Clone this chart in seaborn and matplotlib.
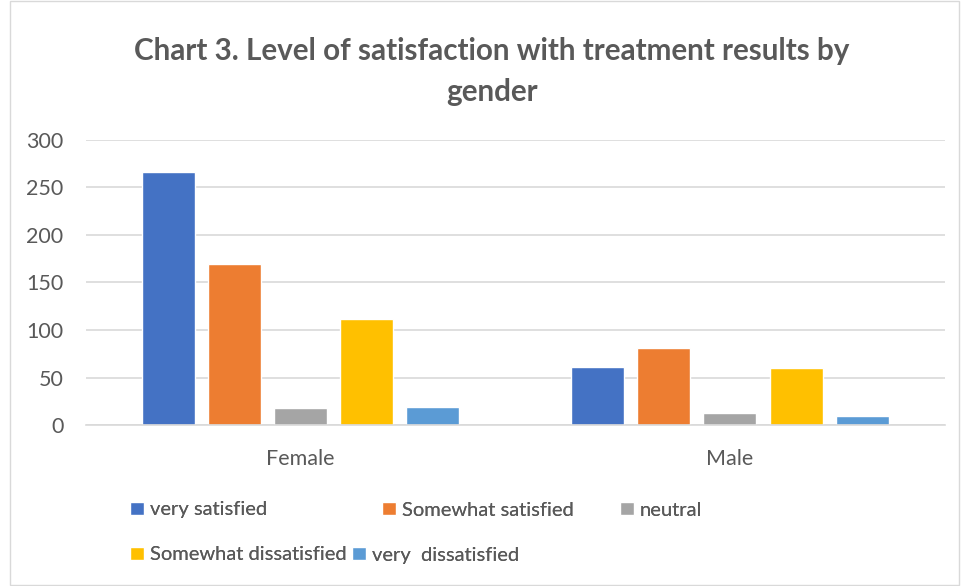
import matplotlib
matplotlib.use("Agg")
import matplotlib.pyplot as plt
import pandas as pd
import seaborn as sns
from matplotlib.patches import Rectangle

genders = ["Female", "Male"]
levels = ["very satisfied", "Somewhat satisfied", "neutral",
          "Somewhat dissatisfied", "very  dissatisfied"]
female = [266, 169, 18, 112, 19]
male = [61, 81, 13, 60, 10]
colors = ["#4472C4", "#ED7D31", "#A5A5A5", "#FFC000", "#5B9BD5"]

rows = []
for lvl, f, m in zip(levels, female, male):
    rows.append({"gender": "Female", "level": lvl, "count": f})
    rows.append({"gender": "Male", "level": lvl, "count": m})
df = pd.DataFrame(rows)

sns.set_style("white")
plt.rcParams["font.family"] = ["Lato", "DejaVu Sans"]
text_col = "#595959"

fig = plt.figure(figsize=(9.62, 5.86), dpi=100)
ax = fig.add_axes([0.089, 0.2747, 0.893, 0.4865])

sns.barplot(data=df, x="gender", y="count", hue="level", order=genders,
            hue_order=levels, palette=colors, width=0.77, gap=0.2,
            saturation=1, ax=ax)

ax.set_ylim(0, 300)
ax.set_yticks(range(0, 301, 50))
ax.yaxis.grid(True, color="#d9d9d9", linewidth=1.2)
ax.set_axisbelow(True)
for s in ["top", "right", "left"]:
    ax.spines[s].set_visible(False)
ax.spines["bottom"].set_color("#d9d9d9")
ax.spines["bottom"].set_linewidth(1.2)
ax.tick_params(length=0, labelsize=15.5, colors=text_col)
ax.tick_params(axis="y", pad=16)
ax.tick_params(axis="x", pad=17)
ax.set_xlabel("")
ax.set_ylabel("")

handles, labels = ax.get_legend_handles_labels()
ax.get_legend().remove()

# one legend per entry so the spacing follows the Excel layout
spots = [(130, 510), (382, 510), (620, 510), (130, 555), (352, 555)]
for h, lab, (px, py) in zip(handles, labels, spots):
    leg = fig.legend([h], [lab], loc="center left",
                     bbox_to_anchor=(px / 962, 1 - py / 586),
                     frameon=False, fontsize=14.5, handlelength=0.68,
                     handleheight=0.68, handletextpad=0.3, borderpad=0,
                     borderaxespad=0, labelcolor=text_col)
    fig.add_artist(leg)

fig.suptitle("Chart 3. Level of satisfaction with treatment results by\ngender",
             x=0.511, y=0.937, fontsize=21.3, fontweight="bold", color=text_col,
             linespacing=1.55)

fig.add_artist(Rectangle((10 / 962, 0.002), 0.987, 0.996, transform=fig.transFigure,
                         fill=False, edgecolor="#d9d9d9", linewidth=1))

fig.savefig("out.png", dpi=100)
